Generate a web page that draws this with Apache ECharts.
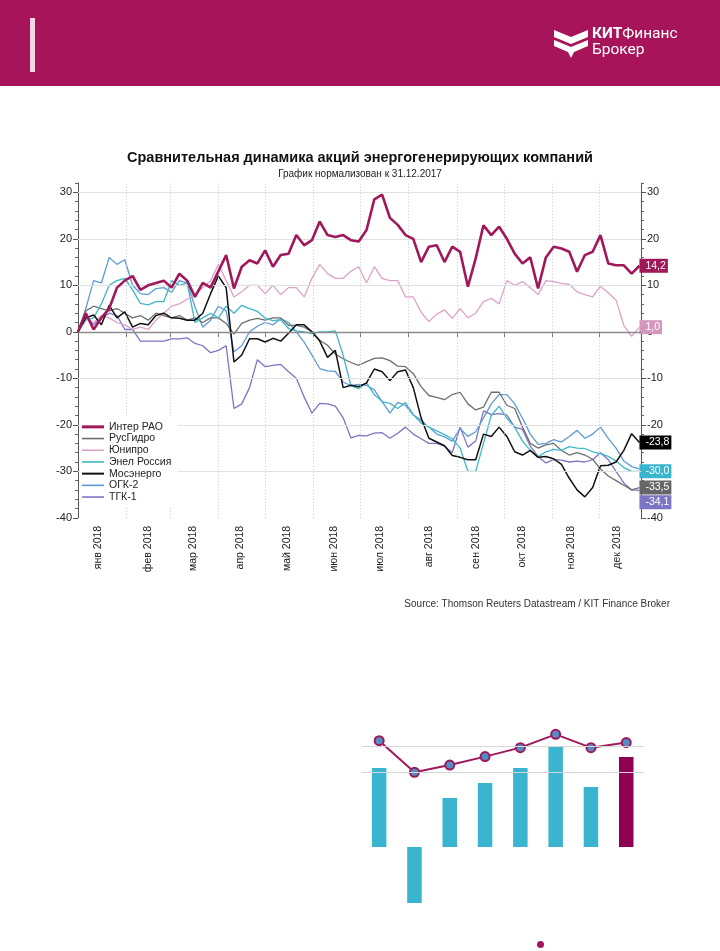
<!DOCTYPE html>
<html><head><meta charset="utf-8">
<script src="https://cdn.jsdelivr.net/npm/echarts@6/dist/echarts.min.js"></script>
<style>html,body{margin:0;padding:0;background:#fff}#c{width:720px;height:951px}</style>
</head><body><div id="c"></div>
<script>
// ---- data: day of year 2018 (0 = 1 Jan) ----
const days = [0,5,10,15,20,25,30,35,40,45,50,55,60,65,70,75,80,85,90,95,
  100,105,110,115,120,125,130,135,140,145,150,155,160,165,170,175,180,185,190,195,
  200,205,210,215,220,225,230,235,240,245,250,255,260,265,270,275,280,285,290,295,
  300,305,310,315,320,325,330,335,340,345,350,355,360];

const interRao = [0,4,0.5,3,5,9.5,11,12,9,10,
  10.5,11,9.5,12.5,11,7.5,10.5,9.5,13,16.5,
  9.3,14,15.4,14.7,17.5,14,16.5,16.8,20.8,18.6,
  19.7,23.7,20.8,20.4,20.8,19.7,19.4,21.9,28.5,29.5,
  24.5,23,20.8,20,15,18.3,18.6,15,18.3,17.2,
  9.7,15.8,22.9,20.8,22.6,20,16.8,14.7,16,9.3,
  16,18.3,17.9,17.2,12.9,16.5,17.2,20.8,14.7,14.3,
  14.3,12.5,14.2];
const rusGidro = [0,4.5,5.5,5,4.5,5,4,3,3.5,2.5,
  4,3.5,3,3.5,2.5,3,2,3,3,1.8,
  -0.5,1.8,2.5,2.9,2.5,3,3,1.4,1.4,1,
  0,-1.8,-2.9,-4.8,-5.8,-6.6,-7.2,-6.4,-5.7,-5.6,
  -6.2,-7.4,-7.5,-9,-11.8,-13.7,-14.1,-14.6,-13.5,-13,
  -15.5,-16.8,-16.2,-13,-13,-15.8,-16.5,-20.5,-24,-25,
  -24.3,-24,-25.5,-26.5,-26,-26.5,-27.4,-29.5,-31,-32,
  -33,-34,-33.5];
const yunipro = [0,3,2,3.5,3,2,1.5,0.5,1,0.5,
  2.5,4,5.5,6,7,8,9.5,11,14.5,11,
  7.5,8.6,10,10,8.2,10,8,9.5,9.5,7.5,
  11.5,14.5,12.5,11.5,11.5,13,14,10.5,14,11.5,
  11,11,7.5,7.5,4.2,2.2,3.8,4.7,2.9,5,
  3,4,6.5,7.2,6,11,10,10.8,9.5,8,
  11,10.8,10.4,10.2,8.6,8,7.5,9.8,8.4,6.8,
  1.4,-1.0,1.0];
const enel = [0,2.5,3,6,10,11,11.5,9,6.1,5.8,
  6.5,6.5,11,10,10.5,2,3,4,3,5.5,
  4,5.7,5,4.4,2.9,2.4,2.6,0.7,0.2,0,
  -0.4,0,0,0.2,-5,-11.6,-12.2,-11,-13.5,-15,
  -15.4,-16.5,-15.2,-17.8,-19.6,-20.5,-21.3,-22.1,-23,-25,
  -30,-30,-24,-18,-16,-18.6,-20.5,-23.5,-25.5,-26.9,
  -25.8,-25.3,-25.5,-24.7,-25,-25.1,-25.8,-26.2,-26.8,-27.8,
  -29.2,-30,-30];
const mosenergo = [0,3,3.6,1.5,5.7,3,4.3,1,1.8,1.5,
  3.5,4,3,2.9,2.5,2.5,4,8.2,12,9.5,
  -6.5,-5,-1.5,-1.5,-2.2,-1.4,-2,-0.3,1.5,1.5,
  0,-2,-5.5,-4,-12,-11.5,-11.8,-11,-8,-8.6,
  -10.5,-8.6,-8.2,-12,-18.5,-22.9,-23.7,-24.5,-26.6,-27,
  -27.5,-27.5,-22,-22.5,-20.5,-22.5,-25.8,-26.5,-25.5,-27,
  -26.8,-27.3,-28.5,-31.5,-34,-35.5,-33.5,-28.8,-28.7,-28,
  -25.5,-21.9,-23.8];
const ogk2 = [0,5,11,10.5,16,14.5,15.5,10,8.2,8,
  9.3,9.5,8.5,11,10.5,5.4,1,2.5,5.5,4.5,
  -4.3,-3,0,1.2,2,1.5,2.8,2,0,-2.2,
  -5,-7.9,-8.4,-8.5,-10.8,-11.6,-11.3,-11.5,-12.5,-15,
  -17.5,-15.2,-15.8,-17.9,-19,-20.5,-22,-22.6,-23.5,-20.8,
  -22.5,-21.5,-18.5,-15.5,-13.5,-13.5,-15.5,-18.6,-22,-24.2,
  -24,-23.2,-23.7,-22.5,-21.2,-22.9,-22,-20.5,-22.9,-25,
  -27.8,-29,-29.5];
const tgk1 = [0,3.5,1.5,3,4,3.5,0.5,0.5,-2,-2,
  -2,-2,-1.5,-1.5,-1.3,-2.5,-3,-4.5,-4,-3,
  -16.5,-15.5,-12,-6,-7.5,-7.2,-7,-8.6,-10,-14,
  -17.5,-15.4,-15.5,-16,-18.5,-22.8,-22.3,-22.4,-21.8,-21.7,
  -22.9,-21.8,-20.5,-22,-23,-24,-24,-24.6,-26,-20.5,
  -24.8,-23.5,-17,-17.8,-17.6,-17.9,-20.5,-21,-24.6,-26.8,
  -28.2,-27.5,-27.6,-28,-27.8,-28,-27.5,-26,-27.5,-30,
  -32.5,-34,-34.1];

const monthLabels = ['янв 2018','фев 2018','мар 2018','апр 2018','май 2018','июн 2018',
  'июл 2018','авг 2018','сен 2018','окт 2018','ноя 2018','дек 2018'];
const monthLabelDays = [13,45,74,104,134,164,194,225,255,285,316,346];
const monthStartDays = [0,31,59,90,120,151,181,212,243,273,304,334];
const yMajorTicks = [-40,-30,-20,-10,0,10,20,30];
const yGridValues = [30,20,10,-10,-20,-30];

// lower (cut-off) chart
const barCats = ['1','2','3','4','5','6','7','8'];
const barValues = [7.9,-5.6,4.9,6.4,7.9,10.0,6.0,9.0];
const lineValues = [22.3,10,12.8,16.1,19.6,24.8,19.6,21.6];
const lowerGridValues = [10,20];

// ---- build ----
const yMinorTicks = [];
for (let v = -40; v <= 32; v += 2) if (v % 10 !== 0) yMinorTicks.push(v);

const FONT = 'Liberation Sans, Arial, sans-serif';
const fmt = v => v.toFixed(1).replace('.', ',');

function mk(name, vals, color, width, z, lbl) {
  const s = {
    type: 'line', name, z,
    data: days.map((d, i) => [d, vals[i]]),
    xAxisIndex: 0, yAxisIndex: 0,
    symbol: 'none', showSymbol: false,
    lineStyle: { color, width },
    itemStyle: { color },
    emphasis: { disabled: true }
  };
  if (lbl) {
    s.endLabel = {
      show: true, formatter: p => fmt(p.value[1]),
      color: '#fff', backgroundColor: lbl.bg || color,
      fontSize: 10.5, fontFamily: FONT, lineHeight: 12,
      padding: [1, 2, 1, 6], distance: 0,
      offset: lbl.offset || [0, 0]
    };
  }
  return s;
}

const chart = echarts.init(document.getElementById('c'), null, { renderer: 'canvas' });

const yBase = { type: 'value', gridIndex: 0, min: -40, max: 32 };
const thin = 'path://M0,0H22V1.6H0Z';
const thick = 'path://M0,0H22V3H0Z';

chart.setOption({
  animation: false,
  textStyle: { fontFamily: FONT },
  title: {
    text: 'Сравнительная динамика акций энергогенерирующих компаний',
    subtext: 'График нормализован к 31.12.2017',
    left: 'center', top: 145, itemGap: 4,
    textStyle: { fontSize: 14.5, fontWeight: 'bold', color: '#111', fontFamily: FONT },
    subtextStyle: { fontSize: 10, color: '#222', fontFamily: FONT }
  },
  legend: [{
    data: [
      { name: 'Интер РАО', icon: thick },
      { name: 'РусГидро', icon: thin },
      { name: 'Юнипро', icon: thin },
      { name: 'Энел Россия', icon: thin },
      { name: 'Мосэнерго', icon: 'path://M0,0H22V2H0Z' },
      { name: 'ОГК-2', icon: thin },
      { name: 'ТГК-1', icon: thin }
    ],
    orient: 'vertical', left: 80, top: 418, padding: [3, 6, 3, 2],
    backgroundColor: '#ffffff', z: 10,
    itemWidth: 22, itemHeight: 10, itemGap: 0,
    selectedMode: false,
    textStyle: { fontSize: 10.5, color: '#222', lineHeight: 11.7, fontFamily: FONT }
  }, {
    data: ['Динамика'], left: 537, top: 941, padding: 0,
    icon: 'circle', itemWidth: 7, itemHeight: 7, selectedMode: false,
    formatter: () => '',
    itemStyle: { color: '#A0185A', borderWidth: 0 }
  }],
  grid: [
    { left: 78, width: 563, top: 183, height: 334.8 },
    { left: 361.5, width: 282.4, top: 721, height: 205 }
  ],
  xAxis: [{
    type: 'value', gridIndex: 0, min: 0, max: 361,
    axisLine: { show: true, lineStyle: { color: '#555', width: 1 } },
    axisTick: { show: true, customValues: monthStartDays, length: 5, lineStyle: { color: '#555' } },
    axisLabel: {
      customValues: monthLabelDays, rotate: 90, margin: 8,
      fontSize: 10.5, color: '#222',
      formatter: v => {
        let best = 0;
        monthLabelDays.forEach((d, i) => { if (Math.abs(d - v) < Math.abs(monthLabelDays[best] - v)) best = i; });
        return monthLabels[best];
      }
    },
    splitLine: { show: false }
  }, {
    type: 'category', gridIndex: 1, data: barCats, show: false
  }],
  yAxis: [
    Object.assign({}, yBase, {
      position: 'left',
      axisLine: { show: true, lineStyle: { color: '#555' } },
      axisTick: { show: true, customValues: yMajorTicks, length: 5, lineStyle: { color: '#555' } },
      axisLabel: { customValues: yMajorTicks, fontSize: 11, color: '#222', margin: 6 },
      splitLine: { show: false }
    }),
    Object.assign({}, yBase, {
      position: 'right',
      axisLine: { show: true, lineStyle: { color: '#555' } },
      axisTick: { show: true, customValues: yMajorTicks, length: 5, lineStyle: { color: '#555' } },
      axisLabel: { customValues: yMajorTicks, fontSize: 11, color: '#222', margin: 6 },
      splitLine: { show: false }
    }),
    Object.assign({}, yBase, {
      position: 'left',
      axisLine: { show: false },
      axisTick: { show: true, customValues: yMinorTicks, length: 3, lineStyle: { color: '#666' } },
      axisLabel: { show: false }, splitLine: { show: false }
    }),
    Object.assign({}, yBase, {
      position: 'right',
      axisLine: { show: false },
      axisTick: { show: true, customValues: yMinorTicks, length: 3, lineStyle: { color: '#666' } },
      axisLabel: { show: false }, splitLine: { show: false }
    }),
    { type: 'value', gridIndex: 1, min: -7.9, max: 12.6, show: false },
    { type: 'value', gridIndex: 1, min: -50, max: 30, show: false }
  ],
  series: [
    {
      type: 'line', xAxisIndex: 0, yAxisIndex: 0, data: [], silent: true, z: 1,
      markLine: {
        silent: true, symbol: ['none', 'none'], animation: false, label: { show: false },
        emphasis: { disabled: true },
        data: [
          ...yGridValues.map(v => ({ yAxis: v, lineStyle: { color: '#E1E1E1', width: 1, type: 'solid' } })),
          ...monthStartDays.slice(1).map(v => ({ xAxis: v, lineStyle: { color: '#C9C9C9', width: 1, type: [1, 2] } })),
          { yAxis: 0, lineStyle: { color: '#8C8C8C', width: 1.3, type: 'solid' } }
        ]
      }
    },
    mk('ТГК-1', tgk1, '#7C74C4', 1.3, 3, { offset: [0, 12] }),
    mk('ОГК-2', ogk2, '#5E9AD6', 1.3, 3, null),
    mk('РусГидро', rusGidro, '#6E6E6E', 1.3, 3, { bg: '#666666' }),
    mk('Энел Россия', enel, '#3DB7C9', 1.3, 3, { bg: '#38B6D0' }),
    mk('Юнипро', yunipro, '#DCA3C8', 1.3, 3, { bg: '#D597C0' }),
    mk('Мосэнерго', mosenergo, '#111111', 1.5, 4, { bg: '#000000' }),
    mk('Интер РАО', interRao, '#A0185A', 2.6, 5, { bg: '#A0185A' }),
    // lower chart
    {
      type: 'line', xAxisIndex: 1, yAxisIndex: 5, data: [], silent: true, z: 1,
      markLine: {
        silent: true, symbol: ['none', 'none'], animation: false, label: { show: false },
        data: lowerGridValues.map(v => ({ yAxis: v, lineStyle: { color: '#D6D6D6', width: 1, type: 'solid' } }))
      }
    },
    {
      type: 'bar', xAxisIndex: 1, yAxisIndex: 4, barWidth: 14.5, z: 2,
      data: barValues.map((v, i) => ({ value: v, itemStyle: { color: i === barValues.length - 1 ? '#8E0052' : '#3AB4CF' } })),
      silent: true
    },
    {
      type: 'line', name: 'Динамика', xAxisIndex: 1, yAxisIndex: 5, z: 3,
      data: lineValues, symbol: 'circle', symbolSize: 9,
      lineStyle: { color: '#A0185A', width: 2 },
      itemStyle: { color: '#4F8FC6', borderColor: '#A0185A', borderWidth: 2 },
      silent: true
    }
  ],
  graphic: [
    { type: 'rect', shape: { x: 0, y: 0, width: 720, height: 86 }, style: { fill: '#A8145A' }, z: 0 },
    { type: 'rect', shape: { x: 30, y: 18, width: 5, height: 54 }, style: { fill: '#F3D6E4' }, z: 1 },
    { type: 'polygon', shape: { points: [[554,30],[571,37],[588,30],[588,37],[571,44],[554,37]] }, style: { fill: '#fff' }, z: 1 },
    { type: 'polygon', shape: { points: [[554,40],[571,47],[588,40],[588,46],[574,52],[571,58],[568,52],[554,46]] }, style: { fill: '#fff' }, z: 1 },
    { type: 'text', z: 1, style: {
      x: 592, y: 26, text: '{b|КИТ}{r|Финанс}\n{r|Брокер}',
      rich: {
        b: { fontSize: 15.5, fontWeight: 'bold', fill: '#fff', fontFamily: 'Roboto', lineHeight: 16 },
        r: { fontSize: 15.5, fill: '#fff', fontFamily: 'Roboto', lineHeight: 16 }
      }
    } },
    { type: 'text', z: 1, style: {
      x: 670, y: 604, text: 'Source: Thomson Reuters Datastream / KIT Finance Broker',
      align: 'right', verticalAlign: 'middle', fontSize: 10, fontFamily: FONT, fill: '#333'
    } }
  ]
});
</script></body></html>
